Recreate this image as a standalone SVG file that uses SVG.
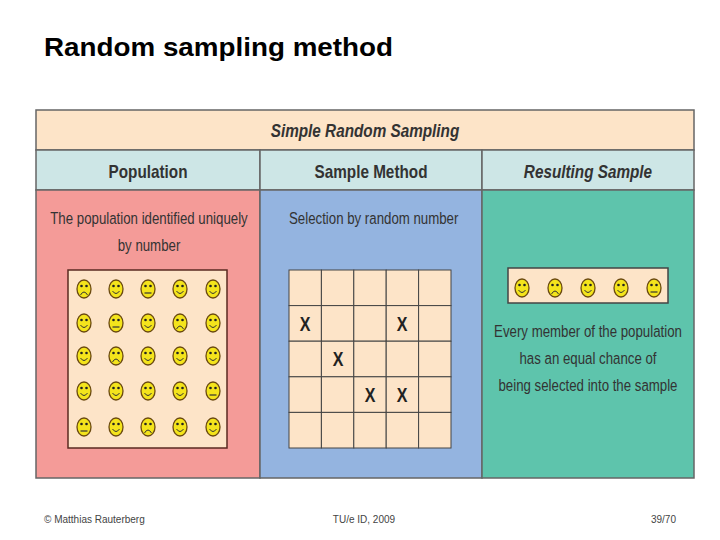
<svg xmlns="http://www.w3.org/2000/svg" xmlns:xlink="http://www.w3.org/1999/xlink" width="720" height="540" viewBox="0 0 720 540">
<style>
.c{font-family:"Liberation Sans",Arial,sans-serif;font-stretch:condensed}
.ft{font-family:"Liberation Sans",Arial,sans-serif;font-size:10px;fill:#444}
.cell{fill:#fde4c8;stroke:#444;stroke-width:1}
.x{font-family:"Liberation Sans",Arial,sans-serif;font-size:20px;fill:#222}
.bd{stroke:#666;stroke-width:1.5}
</style>
<defs>
<g id="f"><ellipse rx="7" ry="9" fill="#f4e41c" stroke="#6b4a10" stroke-width="1.3"/><circle cx="-2.5" cy="-3" r="1.3" fill="#222"/><circle cx="2.5" cy="-3" r="1.3" fill="#222"/></g>
<g id="s"><use xlink:href="#f"/><path d="M-3.5,2 Q0,7 3.5,2" fill="none" stroke="#333" stroke-width="1"/></g>
<g id="r"><use xlink:href="#f"/><path d="M-3.5,6 Q0,0 3.5,6" fill="none" stroke="#333" stroke-width="1"/></g>
<g id="m"><use xlink:href="#f"/><path d="M-3.5,4 H3.5" stroke="#333" stroke-width="1.2"/></g>
</defs>
<rect width="720" height="540" fill="#fff"/>
<text x="44" y="56" font-family="Liberation Sans,Arial,sans-serif" font-weight="bold" font-size="25" textLength="349" lengthAdjust="spacingAndGlyphs" fill="#000">Random sampling method</text>
<g id="table">
<rect x="36" y="110" width="658" height="40" fill="#fde4c8" class="bd"/>
<text class="c" font-size="18" font-style="italic" font-weight="bold" fill="#333" text-anchor="middle" transform="translate(365 137) scale(0.85 1)">Simple Random Sampling</text>
<rect x="36" y="150" width="224" height="40" fill="#cde6e6" class="bd"/>
<rect x="260" y="150" width="222" height="40" fill="#cde6e6" class="bd"/>
<rect x="482" y="150" width="212" height="40" fill="#cde6e6" class="bd"/>
<g class="c" font-size="18" font-weight="bold" fill="#333" text-anchor="middle">
<text transform="translate(148 178) scale(0.85 1)">Population</text>
<text transform="translate(371 178) scale(0.85 1)">Sample Method</text>
<text transform="translate(588 178) scale(0.85 1)" font-style="italic">Resulting Sample</text>
</g>
<rect x="36" y="190" width="224" height="288" fill="#f49b98" class="bd"/>
<rect x="260" y="190" width="222" height="288" fill="#94b4e0" class="bd"/>
<rect x="482" y="190" width="212" height="288" fill="#5ec4ac" class="bd"/>
</g>
<g id="population">
<g class="c" font-size="17" fill="#333" text-anchor="middle">
<text transform="translate(149 224) scale(0.78 1)">The population identified uniquely</text>
<text transform="translate(149 251) scale(0.78 1)">by number</text>
</g>
<rect x="68" y="270" width="159" height="178" fill="#fde4c8" stroke="#5a2a20" stroke-width="1.5"/>
<use xlink:href="#r" x="84" y="289"/><use xlink:href="#s" x="116" y="289"/><use xlink:href="#m" x="148" y="289"/><use xlink:href="#s" x="180" y="289"/><use xlink:href="#s" x="213" y="289"/>
<use xlink:href="#s" x="84" y="323"/><use xlink:href="#m" x="116" y="323"/><use xlink:href="#s" x="148" y="323"/><use xlink:href="#r" x="180" y="323"/><use xlink:href="#s" x="213" y="323"/>
<use xlink:href="#s" x="84" y="356"/><use xlink:href="#r" x="116" y="356"/><use xlink:href="#s" x="148" y="356"/><use xlink:href="#s" x="180" y="356"/><use xlink:href="#s" x="213" y="356"/>
<use xlink:href="#s" x="84" y="391"/><use xlink:href="#s" x="116" y="391"/><use xlink:href="#s" x="148" y="391"/><use xlink:href="#s" x="180" y="391"/><use xlink:href="#m" x="213" y="391"/>
<use xlink:href="#m" x="84" y="427"/><use xlink:href="#s" x="116" y="427"/><use xlink:href="#r" x="148" y="427"/><use xlink:href="#s" x="180" y="427"/><use xlink:href="#s" x="213" y="427"/>
</g>
<g id="method">
<text class="c" font-size="17" fill="#333" transform="translate(289 224) scale(0.78 1)">Selection by random number</text>
<g>
<rect x="289" y="270" width="32.4" height="35.6" class="cell"/><rect x="321.4" y="270" width="32.4" height="35.6" class="cell"/><rect x="353.8" y="270" width="32.4" height="35.6" class="cell"/><rect x="386.2" y="270" width="32.4" height="35.6" class="cell"/><rect x="418.6" y="270" width="32.4" height="35.6" class="cell"/>
<rect x="289" y="305.6" width="32.4" height="35.6" class="cell"/><rect x="321.4" y="305.6" width="32.4" height="35.6" class="cell"/><rect x="353.8" y="305.6" width="32.4" height="35.6" class="cell"/><rect x="386.2" y="305.6" width="32.4" height="35.6" class="cell"/><rect x="418.6" y="305.6" width="32.4" height="35.6" class="cell"/>
<rect x="289" y="341.2" width="32.4" height="35.6" class="cell"/><rect x="321.4" y="341.2" width="32.4" height="35.6" class="cell"/><rect x="353.8" y="341.2" width="32.4" height="35.6" class="cell"/><rect x="386.2" y="341.2" width="32.4" height="35.6" class="cell"/><rect x="418.6" y="341.2" width="32.4" height="35.6" class="cell"/>
<rect x="289" y="376.8" width="32.4" height="35.6" class="cell"/><rect x="321.4" y="376.8" width="32.4" height="35.6" class="cell"/><rect x="353.8" y="376.8" width="32.4" height="35.6" class="cell"/><rect x="386.2" y="376.8" width="32.4" height="35.6" class="cell"/><rect x="418.6" y="376.8" width="32.4" height="35.6" class="cell"/>
<rect x="289" y="412.4" width="32.4" height="35.6" class="cell"/><rect x="321.4" y="412.4" width="32.4" height="35.6" class="cell"/><rect x="353.8" y="412.4" width="32.4" height="35.6" class="cell"/><rect x="386.2" y="412.4" width="32.4" height="35.6" class="cell"/><rect x="418.6" y="412.4" width="32.4" height="35.6" class="cell"/>
</g>
<g class="x" text-anchor="middle" font-weight="bold">
<text transform="translate(305 331) scale(0.8 1)">X</text>
<text transform="translate(402 331) scale(0.8 1)">X</text>
<text transform="translate(338 366) scale(0.8 1)">X</text>
<text transform="translate(370 402) scale(0.8 1)">X</text>
<text transform="translate(402 402) scale(0.8 1)">X</text>
</g>
</g>
<g id="sample">
<rect x="508" y="268" width="160" height="35" fill="#fde4c8" stroke="#444" stroke-width="1.5"/>
<use xlink:href="#s" x="522" y="288"/><use xlink:href="#r" x="555" y="288"/><use xlink:href="#s" x="588" y="288"/><use xlink:href="#s" x="621" y="288"/><use xlink:href="#m" x="654" y="288"/>
<g class="c" font-size="17" fill="#333" text-anchor="middle">
<text transform="translate(588 337) scale(0.78 1)">Every member of the population</text>
<text transform="translate(588 364) scale(0.78 1)">has an equal chance of</text>
<text transform="translate(588 391) scale(0.78 1)">being selected into the sample</text>
</g>
</g>
<text x="44" y="523" class="ft">© Matthias Rauterberg</text>
<text x="364" y="523" class="ft" text-anchor="middle">TU/e ID, 2009</text>
<text x="676" y="523" class="ft" text-anchor="end">39/70</text>
</svg>
